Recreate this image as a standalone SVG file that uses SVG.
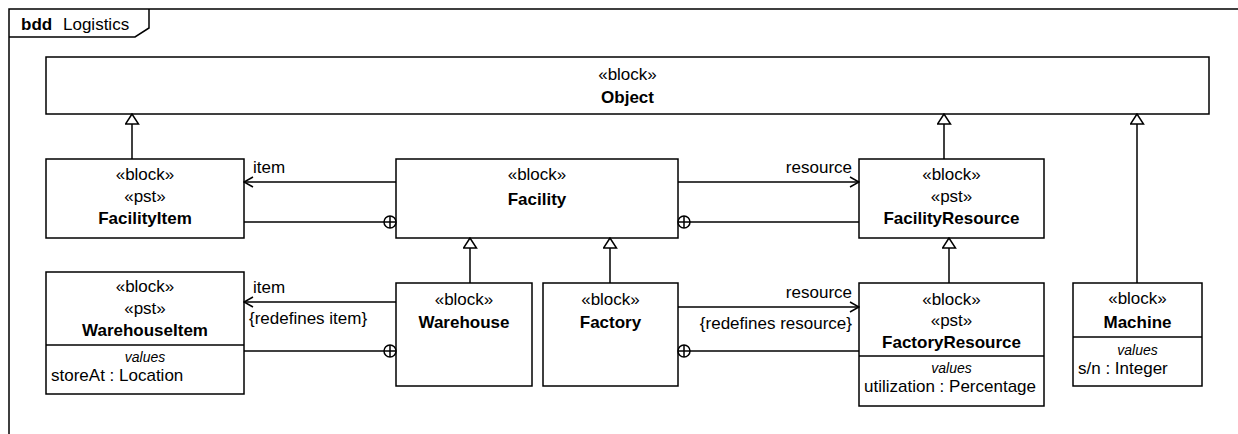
<svg xmlns="http://www.w3.org/2000/svg" width="1238" height="434" viewBox="0 0 1238 434">
<defs>
<style>
.box{fill:#fff;stroke:#000;stroke-width:1.5}
.ln{fill:none;stroke:#000;stroke-width:1.5}
text{font-family:"Liberation Sans",Arial,sans-serif;font-size:17px;fill:#000}
.c{text-anchor:middle}
.b{font-weight:bold}
.i{font-style:italic;font-size:14px}
.r{text-anchor:end}
</style>
<marker id="gen" viewBox="0 0 12 15" refX="11" refY="7.5" markerWidth="12" markerHeight="15" markerUnits="userSpaceOnUse" orient="auto">
<path d="M11,7.5 L1,1 L1,14 Z" fill="#fff" stroke="#000" stroke-width="1.5"/>
</marker>
<marker id="open" viewBox="0 0 12 12" refX="11" refY="6" markerWidth="12" markerHeight="12" markerUnits="userSpaceOnUse" orient="auto">
<path d="M2,1 L11,6 L2,11" fill="none" stroke="#000" stroke-width="1.5"/>
</marker>
<g id="oplus">
<circle cx="0" cy="0" r="6" fill="#fff" stroke="#000" stroke-width="1.5"/>
<path d="M-6,0 H6 M0,-6 V6" stroke="#000" stroke-width="1.5"/>
</g>
</defs>
<rect width="1238" height="434" fill="#fff"/>
<g id="frame">
<path class="ln" d="M9,434 V9 H1238"/>
<path class="ln" d="M9,37 H135 L149,28 V9"/>
<text class="b" x="21" y="30">bdd</text>
<text x="63" y="30">Logistics</text>
</g>
<g id="Object">
<rect class="box" x="46" y="57" width="1163" height="57"/>
<text class="c" x="627.5" y="80">«block»</text>
<text class="c b" x="627.5" y="103">Object</text>
</g>
<g id="FacilityItem">
<rect class="box" x="46" y="159" width="198" height="79"/>
<text class="c" x="145" y="180">«block»</text>
<text class="c" x="145" y="202">«pst»</text>
<text class="c b" x="145" y="224">FacilityItem</text>
</g>
<g id="Facility">
<rect class="box" x="396" y="159" width="282" height="79"/>
<text class="c" x="537" y="180">«block»</text>
<text class="c b" x="537" y="205">Facility</text>
</g>
<g id="FacilityResource">
<rect class="box" x="859" y="159" width="185" height="79"/>
<text class="c" x="951.5" y="180">«block»</text>
<text class="c" x="951.5" y="202">«pst»</text>
<text class="c b" x="951.5" y="224">FacilityResource</text>
</g>
<g id="WarehouseItem">
<rect class="box" x="46" y="272" width="198" height="122"/>
<line class="ln" x1="46" y1="345" x2="244" y2="345"/>
<text class="c" x="145" y="292">«block»</text>
<text class="c" x="145" y="314">«pst»</text>
<text class="c b" x="145" y="336">WarehouseItem</text>
<text class="c i" x="145" y="362">values</text>
<text x="51" y="381">storeAt : Location</text>
</g>
<g id="Warehouse">
<rect class="box" x="396" y="283" width="136" height="103"/>
<text class="c" x="464" y="305">«block»</text>
<text class="c b" x="464" y="328">Warehouse</text>
</g>
<g id="Factory">
<rect class="box" x="543" y="283" width="135" height="103"/>
<text class="c" x="610.5" y="305">«block»</text>
<text class="c b" x="610.5" y="328">Factory</text>
</g>
<g id="FactoryResource">
<rect class="box" x="859" y="283" width="185" height="123"/>
<line class="ln" x1="859" y1="356" x2="1044" y2="356"/>
<text class="c" x="951.5" y="305">«block»</text>
<text class="c" x="951.5" y="326">«pst»</text>
<text class="c b" x="951.5" y="348">FactoryResource</text>
<text class="c i" x="951.5" y="373">values</text>
<text x="864" y="392">utilization : Percentage</text>
</g>
<g id="Machine">
<rect class="box" x="1073" y="283" width="129" height="103"/>
<line class="ln" x1="1073" y1="337" x2="1202" y2="337"/>
<text class="c" x="1137.5" y="304">«block»</text>
<text class="c b" x="1137.5" y="328">Machine</text>
<text class="c i" x="1137.5" y="355">values</text>
<text x="1078" y="374">s/n : Integer</text>
</g>
<g id="connectors">
<line class="ln" x1="132" y1="159" x2="132" y2="114" marker-end="url(#gen)"/>
<line class="ln" x1="944" y1="159" x2="944" y2="114" marker-end="url(#gen)"/>
<line class="ln" x1="1137" y1="283" x2="1137" y2="114" marker-end="url(#gen)"/>
<line class="ln" x1="470" y1="283" x2="470" y2="238" marker-end="url(#gen)"/>
<line class="ln" x1="610" y1="283" x2="610" y2="238" marker-end="url(#gen)"/>
<line class="ln" x1="949" y1="283" x2="949" y2="238" marker-end="url(#gen)"/>

<line class="ln" x1="396" y1="182" x2="244" y2="182" marker-end="url(#open)"/>
<text x="253" y="173">item</text>
<line class="ln" x1="244" y1="222" x2="390" y2="222"/>
<use href="#oplus" x="390" y="222"/>

<line class="ln" x1="678" y1="182" x2="859" y2="182" marker-end="url(#open)"/>
<text class="r" x="852" y="173">resource</text>
<line class="ln" x1="684" y1="222" x2="859" y2="222"/>
<use href="#oplus" x="684" y="222"/>

<line class="ln" x1="396" y1="302" x2="244" y2="302" marker-end="url(#open)"/>
<text x="253" y="293">item</text>
<text x="249" y="324">{redefines item}</text>
<line class="ln" x1="244" y1="351" x2="390" y2="351"/>
<use href="#oplus" x="390" y="351"/>

<line class="ln" x1="678" y1="307" x2="859" y2="307" marker-end="url(#open)"/>
<text class="r" x="852" y="298">resource</text>
<text class="r" x="852" y="329">{redefines resource}</text>
<line class="ln" x1="684" y1="351" x2="859" y2="351"/>
<use href="#oplus" x="684" y="351"/>
</g>
</svg>
